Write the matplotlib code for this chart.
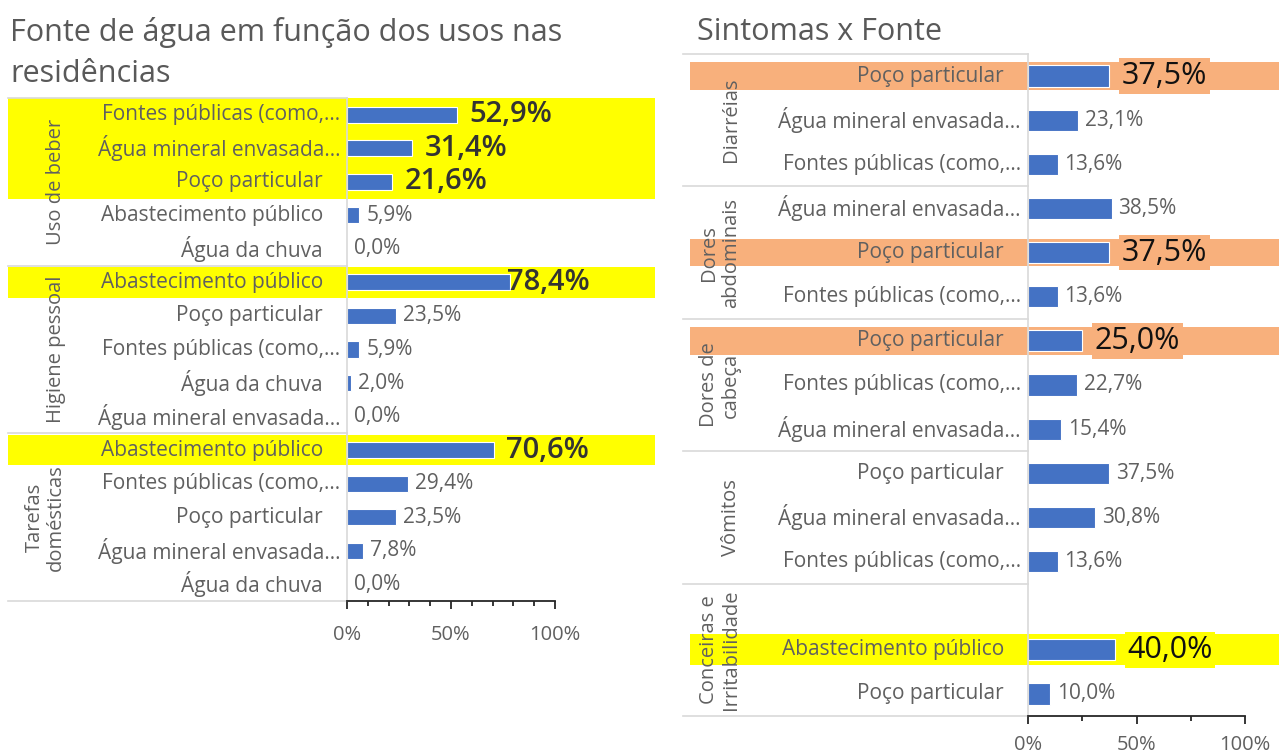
import matplotlib
matplotlib.use('Agg')
import matplotlib.pyplot as plt
from matplotlib.patches import Rectangle
from matplotlib.lines import Line2D
from matplotlib.transforms import blended_transform_factory

plt.rcParams['font.family'] = ['Open Sans', 'DejaVu Sans']

# ---- dados: gráfico da esquerda (usos nas residências) ----
left_groups = ['Uso de beber', 'Higiene pessoal', 'Tarefas\ndomésticas']
left_group_sizes = [5, 5, 5]
left_labels = ['Fontes públicas (como,…', 'Água mineral envasada…', 'Poço particular',
               'Abastecimento público', 'Água da chuva',
               'Abastecimento público', 'Poço particular', 'Fontes públicas (como,…',
               'Água da chuva', 'Água mineral envasada…',
               'Abastecimento público', 'Fontes públicas (como,…', 'Poço particular',
               'Água mineral envasada…', 'Água da chuva']
left_values = [52.9, 31.4, 21.6, 5.9, 0.0,
               78.4, 23.5, 5.9, 2.0, 0.0,
               70.6, 29.4, 23.5, 7.8, 0.0]
left_highlight = [0, 1, 2, 5, 10]

# ---- dados: gráfico da direita (sintomas x fonte) ----
right_groups = ['Diarréias', 'Dores\nabdominais', 'Dores de\ncabeça', 'Vômitos',
                'Conceiras e\nIrritabilidade']
right_group_sizes = [3, 3, 3, 3, 3]
right_labels = ['Poço particular', 'Água mineral envasada…', 'Fontes públicas (como,…',
                'Água mineral envasada…', 'Poço particular', 'Fontes públicas (como,…',
                'Poço particular', 'Fontes públicas (como,…', 'Água mineral envasada…',
                'Poço particular', 'Água mineral envasada…', 'Fontes públicas (como,…',
                '', 'Abastecimento público', 'Poço particular']
right_values = [37.5, 23.1, 13.6,
                38.5, 37.5, 13.6,
                25.0, 22.7, 15.4,
                37.5, 30.8, 13.6,
                None, 40.0, 10.0]
right_highlight = {0: '#F8B07C', 4: '#F8B07C', 6: '#F8B07C', 13: '#FFFF00'}

W, H = 1279, 756
BAR = '#4472C4'
GREY = '#606060'
LINE = '#d9d9d9'
FS = 15

fig = plt.figure(figsize=(W / 100, H / 100), dpi=100)


def px_axes(x0, x1, y_top, y_bot):
    return fig.add_axes([x0 / W, 1 - y_bot / H, (x1 - x0) / W, (y_bot - y_top) / H])


def fmt(v):
    return ('%.1f%%' % v).replace('.', ',')


def draw_chart(ax, labels, values, groups, sizes, bands, xband, xsep, xgroup,
               minor_step, big_style, clamp_px=None, label_pad=(24, 7), tick_pad=12):
    n = len(labels)
    ys = list(range(n))
    ax.set_ylim(n - 0.5, -0.5)
    ax.set_xlim(0, 100)
    ax.set_facecolor('none')
    bt = blended_transform_factory(fig.transFigure, ax.transData)

    # faixas de destaque
    for y, col, h in bands:
        ax.add_patch(Rectangle((xband[0] / W, y - h / 2), (xband[1] - xband[0]) / W, h,
                               transform=bt, facecolor=col, edgecolor='none',
                               zorder=0.3, clip_on=False))

    vals = [0 if v is None else v for v in values]
    ax.barh(ys, vals, height=0.48, color=BAR, edgecolor='white', linewidth=0.8, zorder=2)

    # rótulos das categorias
    for y, lab in zip(ys, labels):
        off = label_pad[1] if lab.endswith('…') else label_pad[0]
        ax.annotate(lab, (0, y), xytext=(-off * 0.72, 0), textcoords='offset points',
                    ha='right', va='center', fontsize=FS, color=GREY,
                    annotation_clip=False)

    # rótulos de valores
    big = set(b[0] for b in bands)
    for y, v in zip(ys, values):
        if v is None:
            continue
        if y in big:
            t = ax.annotate(fmt(v), (v, y), xytext=(9, 0), textcoords='offset points',
                            ha='left', va='center', zorder=3, annotation_clip=False,
                            **big_style)
            if clamp_px is not None:
                fig.canvas.draw()
                bb = t.get_window_extent()
                if bb.x1 > clamp_px:
                    t.set_position((9 - (bb.x1 - clamp_px) * 0.72, 0))
        else:
            ax.annotate(fmt(v), (v, y), xytext=(5, 0), textcoords='offset points',
                        ha='left', va='center', fontsize=FS, color=GREY,
                        annotation_clip=False)

    # separadores dos grupos e rótulos de grupo
    x_axis = ax.get_position().x0
    start = -0.5
    ax.add_line(Line2D([xsep / W, x_axis], [start, start], transform=bt,
                       color=LINE, lw=1.2, clip_on=False))
    for g, s in zip(groups, sizes):
        end = start + s
        ax.add_line(Line2D([xsep / W, x_axis], [end, end], transform=bt,
                           color=LINE, lw=1.2, clip_on=False))
        ax.text(xgroup / W, (start + end) / 2, g, transform=bt, rotation=90,
                ha='right', va='center', multialignment='center', fontsize=14.5,
                color=GREY, linespacing=1.1)
        start = end

    # eixos
    for s in ['top', 'right']:
        ax.spines[s].set_visible(False)
    ax.spines['left'].set_color(LINE)
    ax.spines['left'].set_linewidth(1.2)
    ax.spines['bottom'].set_color('#262626')
    ax.spines['bottom'].set_linewidth(1.3)
    ax.set_yticks([])
    ax.set_xticks([0, 50, 100])
    ax.set_xticklabels(['0%', '50%', '100%'])
    ax.set_xticks([x for x in range(0, 101, minor_step)], minor=True)
    ax.tick_params(axis='x', which='major', direction='out', length=6, width=1.3,
                   color='#262626', labelsize=14.5, labelcolor=GREY, pad=tick_pad)
    ax.tick_params(axis='x', which='minor', direction='out', length=3.5, width=1.3,
                   color='#262626')


# ---- esquerda ----
axL = px_axes(347, 555, 98, 601)
bandsL = []
for i in left_highlight:
    h = 1.02 if (i - 1 in left_highlight or i + 1 in left_highlight) else 0.9
    bandsL.append((i, '#FFFF00', h))
draw_chart(axL, left_labels, left_values, left_groups, left_group_sizes, bandsL,
           xband=(8, 655), xsep=8, xgroup=66, minor_step=10,
           big_style=dict(fontsize=21, color='#333333', fontweight='semibold'),
           clamp_px=590, label_pad=(24, 7), tick_pad=11)

# ---- direita ----
axR = px_axes(1028, 1245, 54, 716)
bandsR = [(i, c, 0.62 if c != '#FFFF00' else 0.7) for i, c in right_highlight.items()]
draw_chart(axR, right_labels, right_values, right_groups, right_group_sizes, bandsR,
           xband=(690, 1279), xsep=683, xgroup=741, minor_step=25,
           big_style=dict(fontsize=22, color='#111111'), label_pad=(24, 7), tick_pad=8)
# caixas dos rótulos grandes com a cor do destaque
for ann in axR.texts:
    if ann.get_fontsize() >= 20:
        ann.set_bbox(dict(facecolor=right_highlight[ann.xy[1]], edgecolor='none', pad=2))

fig.text(10 / W, 1 - 17 / H, 'Fonte de água em função dos usos nas\nresidências',
         ha='left', va='top', fontsize=22, color='#595959', linespacing=1.5)
fig.text(697 / W, 1 - 17 / H, 'Sintomas x Fonte', ha='left', va='top', fontsize=22,
         color='#595959')

plt.savefig('out.png', dpi=100)
